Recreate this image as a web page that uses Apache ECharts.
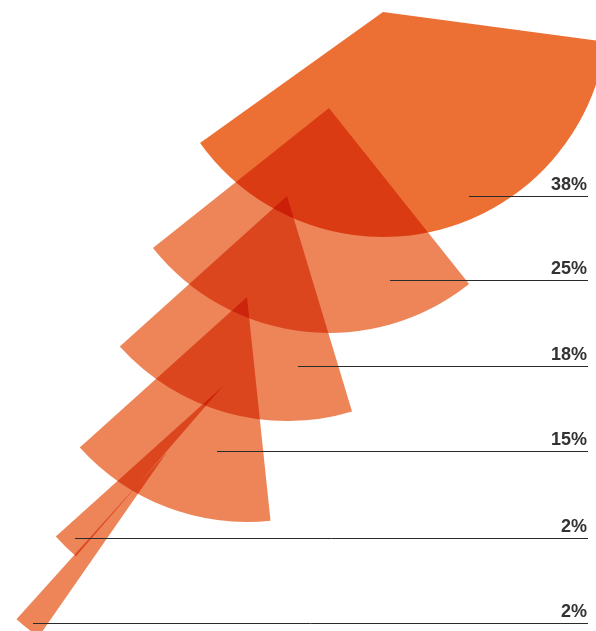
<!DOCTYPE html>
<html>
<head>
<meta charset="utf-8">
<script src="https://cdn.jsdelivr.net/npm/echarts@6/dist/echarts.min.js"></script>
<style>
  html, body { margin: 0; padding: 0; background: #ffffff; }
  #chart { width: 596px; height: 631px; }
</style>
</head>
<body>
<div id="chart"></div>
<script>
// Share values (percent), one fan per value
const shares = [38, 25, 18, 15, 2, 2];
const shareLabels = shares.map(v => v + '%');

// Layout: fan apex positions (px), angle where each fan ends (screen degrees, clockwise from east)
const apexes = [[383, 12], [329, 108], [287, 196], [247, 297], [223, 386], [167, 452]];
const endAngles = [144.4, 141.5, 138, 138, 138, 132];
const fanRadius = 225;

// Leader lines: y position and left end of each line
const leaderY = [196, 280, 366, 451, 538, 623];
const leaderStartX = [469, 390, 298, 217, 75, 33];
const leaderEndX = 588;

const firstColor = '#EC7034';
const restColor = '#ED8559';

const series = shares.map((v, i) => {
  const sweep = v * 3.6;
  return {
    type: 'pie',
    center: apexes[i],
    radius: [0, fanRadius],
    startAngle: -(endAngles[i] - sweep),
    clockwise: true,
    silent: true,
    animation: false,
    avoidLabelOverlap: false,
    blendMode: i === 0 ? 'source-over' : 'multiply',
    z: 2,
    label: { show: false },
    labelLine: { show: false },
    emphasis: { disabled: true },
    data: [
      { value: v, itemStyle: { color: i === 0 ? firstColor : restColor } },
      { value: 100 - v, itemStyle: { color: 'rgba(0,0,0,0)' } }
    ]
  };
});

const graphics = [];
shares.forEach((v, i) => {
  graphics.push({
    type: 'line',
    z: 10,
    shape: { x1: leaderStartX[i], y1: leaderY[i] + 0.5, x2: leaderEndX, y2: leaderY[i] + 0.5 },
    style: { stroke: '#2b2b2b', lineWidth: 1 }
  });
  graphics.push({
    type: 'text',
    z: 10,
    x: leaderEndX - 1,
    y: leaderY[i] - 2,
    style: {
      text: shareLabels[i],
      fill: '#333333',
      font: 'bold 18px "Liberation Sans", Arial, sans-serif',
      textAlign: 'right',
      textVerticalAlign: 'bottom'
    }
  });
});

const chart = echarts.init(document.getElementById('chart'), null, { renderer: 'canvas' });
chart.setOption({
  backgroundColor: '#ffffff',
  animation: false,
  series: series,
  graphic: graphics
});
</script>
</body>
</html>
